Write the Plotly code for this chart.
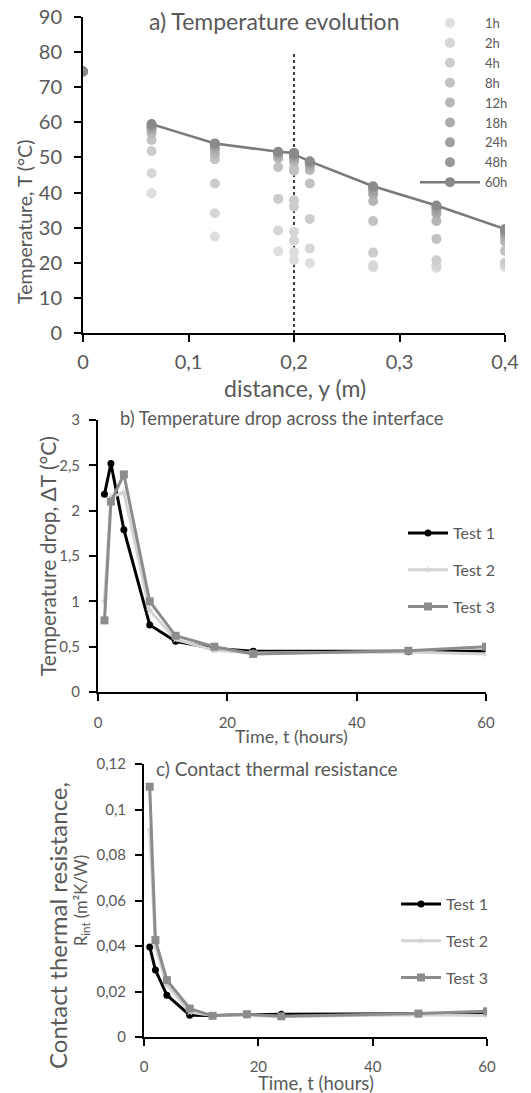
import plotly.graph_objects as go

# ---------------- a) temperature profiles ----------------
DIST_M = [0, 0.065, 0.125, 0.185, 0.2, 0.2, 0.215, 0.275, 0.335, 0.4]
HOUR_LABELS = ["1h", "2h", "4h", "8h", "12h", "18h", "24h", "48h", "60h"]
T_1H = [74.5, 39.8, 27.5, 23.2, 23.0, 20.8, 19.9, 18.7, 18.5, 18.8]
T_2H = [74.5, 45.5, 34.1, 29.2, 28.8, 26.3, 24.1, 19.3, 19.2, 19.4]
T_4H = [74.5, 51.8, 42.6, 38.2, 37.8, 36.0, 32.5, 22.9, 20.7, 20.0]
T_8H = [74.5, 55.0, 49.5, 47.3, 46.9, 46.2, 42.6, 31.9, 26.8, 23.4]
T_12H = [74.5, 57.0, 51.0, 49.8, 49.3, 48.8, 46.4, 37.6, 31.9, 26.1]
T_18H = [74.5, 58.0, 52.3, 50.5, 50.2, 49.7, 47.5, 39.5, 34.0, 27.5]
T_24H = [74.5, 58.6, 53.0, 51.0, 50.7, 50.3, 48.2, 40.5, 35.0, 28.3]
T_48H = [74.5, 59.2, 53.7, 51.4, 51.1, 50.7, 48.6, 41.3, 35.8, 29.0]
T_60H = [74.5, 59.5, 54.0, 51.6, 51.3, 50.9, 48.9, 41.8, 36.3, 29.6]
PROFILE_COLORS = ["#dedede", "#d6d6d6", "#cccccc", "#c2c2c2", "#b6b6b6",
                  "#ababab", "#a1a1a1", "#989898", "#8a8a8a"]
INTERFACE_Y = 0.2

# ---------------- b) / c) interface ----------------
TIME_H = [1, 2, 4, 8, 12, 18, 24, 48, 60]
TEST_NAMES = ["Test 1", "Test 2", "Test 3"]
DT_TEST1 = [2.18, 2.52, 1.79, 0.74, 0.56, 0.48, 0.45, 0.445, 0.45]
DT_TEST2 = [1.0, 2.15, 2.2, 0.9, 0.58, 0.46, 0.43, 0.44, 0.42]
DT_TEST3 = [0.79, 2.10, 2.40, 1.0, 0.62, 0.50, 0.42, 0.455, 0.50]
R_TEST1 = [0.0396, 0.0294, 0.0184, 0.0096, 0.0095, 0.0098, 0.0100, 0.0102, 0.0105]
R_TEST2 = [0.091, 0.040, 0.023, 0.011, 0.0095, 0.0095, 0.0090, 0.0098, 0.0095]
R_TEST3 = [0.110, 0.0426, 0.025, 0.0125, 0.0093, 0.0100, 0.0091, 0.0103, 0.0113]
TEST_COLORS = ["#000000", "#d3d3d3", "#8c8c8c"]
TEST_SYMBOLS = ["circle", "star", "square"]
TEST_MSIZE = [7, 6, 8]

W, H = 531, 1093
OFF = 8  # the page body margin shifts the whole figure by this much
FONT = "Lato, Calibri, sans-serif"
GREY = "#595959"


def px_x(p):
    return (p - OFF) / W


def px_y(p):
    return 1 - (p - OFF) / H


fig = go.Figure()

# panel a: every time step as dots; the 60h profile also gets its line (from the first sensor on)
profiles = [T_1H, T_2H, T_4H, T_8H, T_12H, T_18H, T_24H, T_48H, T_60H]
for i, (lab, vals) in enumerate(zip(HOUR_LABELS, profiles)):
    last = i == len(profiles) - 1
    if last:
        fig.add_trace(go.Scatter(
            x=DIST_M[:1], y=vals[:1], mode="markers", showlegend=False,
            marker=dict(size=10, color=PROFILE_COLORS[i]), xaxis="x", yaxis="y"))
        fig.add_trace(go.Scatter(
            x=DIST_M[1:], y=vals[1:], name=lab, mode="lines+markers",
            marker=dict(size=10, color=PROFILE_COLORS[i]),
            line=dict(color="#7a7a7a", width=2.5),
            xaxis="x", yaxis="y", legend="legend"))
    else:
        fig.add_trace(go.Scatter(
            x=DIST_M, y=vals, name=lab, mode="markers",
            marker=dict(size=10, color=PROFILE_COLORS[i]),
            xaxis="x", yaxis="y", legend="legend"))

# panels b and c
for xa, ya, lg, series in [("x2", "y2", "legend2", [DT_TEST1, DT_TEST2, DT_TEST3]),
                           ("x3", "y3", "legend3", [R_TEST1, R_TEST2, R_TEST3])]:
    for i, vals in enumerate(series):
        fig.add_trace(go.Scatter(
            x=TIME_H, y=vals, name=TEST_NAMES[i], mode="lines+markers",
            line=dict(color=TEST_COLORS[i], width=3),
            marker=dict(symbol=TEST_SYMBOLS[i], size=TEST_MSIZE[i], color=TEST_COLORS[i]),
            xaxis=xa, yaxis=ya, legend=lg, legendgroup=lg + str(i),
        ))


def main_axis(dom, rng, tickvals, fontsize, anchor, standoff):
    return dict(domain=dom, range=rng, tickvals=tickvals, anchor=anchor,
                showline=True, linecolor="black", linewidth=2,
                ticks="outside", ticklen=7, tickwidth=2, tickcolor="black",
                tickfont=dict(family=FONT, size=fontsize, color=GREY),
                ticklabelstandoff=standoff, ticklabeloverflow="allow", automargin=False,
                showgrid=False, zeroline=False, fixedrange=True)


# second copy of each axis: ticks pointing inwards, so the ticks cross the axis line
def inner_axis(over, anchor, rng, tickvals, grid=False):
    return dict(overlaying=over, anchor=anchor, range=rng, tickvals=tickvals,
                ticks="inside", ticklen=7, tickwidth=2, tickcolor="black",
                showticklabels=False, showline=True, linecolor="black", linewidth=2,
                zeroline=False, automargin=False,
                showgrid=grid, gridcolor="#d9d9d9", gridwidth=1, griddash="dot")


A_X = [83, 505]; A_Y = [333, 17]
B_X = [98, 486]; B_Y = [692, 420]
C_X = [144, 487]; C_Y = [1037, 764]

x_a_ticks = [0, 0.1, 0.2, 0.3, 0.4]
y_a_ticks = [0, 10, 20, 30, 40, 50, 60, 70, 80, 90]
t_ticks = [0, 20, 40, 60]
y_b_ticks = [0, 0.5, 1, 1.5, 2, 2.5, 3]
y_c_ticks = [0, 0.02, 0.04, 0.06, 0.08, 0.1, 0.12]

fig.update_layout(
    template="none",
    xaxis=main_axis([px_x(A_X[0]), px_x(A_X[1])], [0, 0.4], x_a_ticks, 20, "y", 3),
    yaxis=main_axis([px_y(A_Y[0]), px_y(A_Y[1])], [0, 90], y_a_ticks, 20, "x", 8),
    xaxis2=main_axis([px_x(B_X[0]), px_x(B_X[1])], [0, 60], t_ticks, 15, "y2", 9),
    yaxis2=main_axis([px_y(B_Y[0]), px_y(B_Y[1])], [0, 3], y_b_ticks, 15, "x2", 6),
    xaxis3=main_axis([px_x(C_X[0]), px_x(C_X[1])], [0, 60], t_ticks, 15, "y3", 8),
    yaxis3=main_axis([px_y(C_Y[0]), px_y(C_Y[1])], [0, 0.12], y_c_ticks, 15, "x3", 6),
    xaxis4=inner_axis("x", "y", [0, 0.4], x_a_ticks),
    yaxis4=inner_axis("y", "x", [0, 90], y_a_ticks[1:-1], grid=True),
    xaxis5=inner_axis("x2", "y2", [0, 60], t_ticks),
    yaxis5=inner_axis("y2", "x2", [0, 3], y_b_ticks),
    xaxis6=inner_axis("x3", "y3", [0, 60], t_ticks),
    yaxis6=inner_axis("y3", "x3", [0, 0.12], y_c_ticks),
)

fig.add_shape(type="line", xref="x", yref="y", x0=INTERFACE_Y, x1=INTERFACE_Y, y0=0, y1=80,
              line=dict(color="black", width=1.5, dash="dot"), layer="below")


def note(text, x, y, size, angle=0):
    fig.add_annotation(text=text, x=px_x(x), y=px_y(y), xref="paper", yref="paper",
                       showarrow=False, textangle=angle, xanchor="center", yanchor="middle",
                       font=dict(family=FONT, size=size, color=GREY))


note("a) Temperature evolution", 274, 21, 23)
note("distance, y (m)", 295, 388, 23)
note("Temperature, T (°C)", 25, 222, 19.5, -90)
note("b) Temperature drop across the interface", 282, 418, 18.3)
note("Time, t (hours)", 291, 736, 18)
note("Temperature drop, ΔT (°C)", 47, 556, 21, -90)
note("c) Contact thermal resistance", 277, 768, 19)
note("Time, t (hours)", 316, 1083, 18.5)
note("Contact thermal resistance,", 57, 926, 24, -90)
note("R<sub>int</sub> (m²K/W)", 81, 901, 16.5, -90)

fig.update_layout(
    width=W, height=H, autosize=False,
    margin=dict(l=0, r=0, t=0, b=0, pad=0),
    paper_bgcolor="white", plot_bgcolor="white",
    separators=", ",
    legend=dict(x=px_x(415), y=1, xanchor="left", yanchor="top",
                font=dict(family=FONT, size=13, color=GREY), itemwidth=60,
                bgcolor="rgba(0,0,0,0)", tracegroupgap=0),
    legend2=dict(x=px_x(403), y=px_y(516), xanchor="left", yanchor="top",
                 font=dict(family=FONT, size=16, color=GREY), itemwidth=40,
                 bgcolor="rgba(0,0,0,0)", tracegroupgap=13),
    legend3=dict(x=px_x(396), y=px_y(887), xanchor="left", yanchor="top",
                 font=dict(family=FONT, size=16, color=GREY), itemwidth=40,
                 bgcolor="rgba(0,0,0,0)", tracegroupgap=13),
)

fig.write_html("out.html")
